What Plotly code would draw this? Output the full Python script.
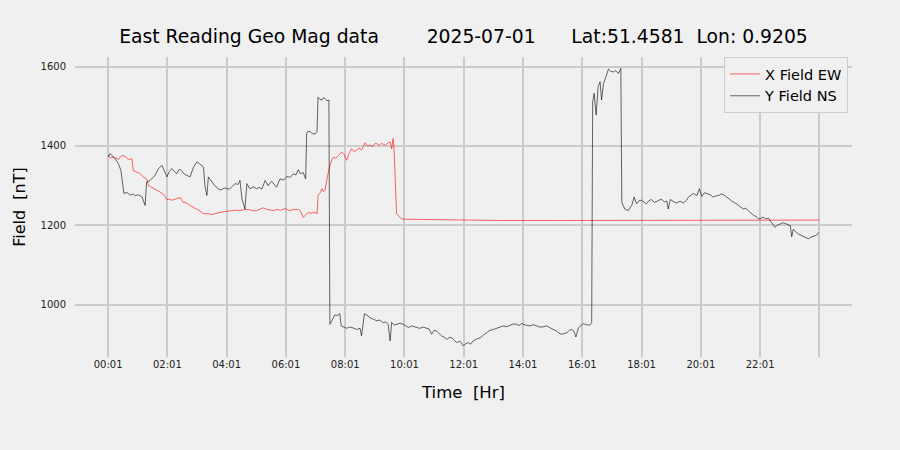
import plotly.graph_objects as go

# time in minutes since midnight
y_minutes = [1, 5, 15, 22, 27, 31, 33, 39, 46, 52, 56, 62, 66, 70, 76, 79, 86, 96, 103, 110, 116, 120, 125, 130, 135, 140, 145, 150,
             155, 160, 167, 174, 181, 186, 194, 197, 201, 204, 211, 216, 221, 226, 231, 236, 241, 246, 251, 258, 264, 268, 272, 278,
             282, 288, 295, 302, 307, 312, 319, 325, 332, 337, 342, 349, 356, 363, 370, 376, 381, 386, 390, 396, 401,
             403, 406, 410, 415, 420, 424, 426, 430, 434, 437, 440, 444, 448,
             450, 454, 460, 465, 470, 473, 478, 484, 490, 497, 504, 511, 514, 520, 525, 531, 538, 545, 551, 558, 563, 568, 572, 575,
             580, 585, 592, 599, 604, 609, 615, 622, 627, 632, 639, 646, 651, 656, 661, 666, 671, 676, 681, 687, 692, 697, 702, 707,
             713, 720, 725, 730, 735, 740, 747, 754, 759, 764, 769, 774, 781, 788, 795, 801, 808, 815, 821, 828, 833, 838, 846, 855,
             862, 869, 875, 882, 889, 896, 902, 909, 914, 919, 925, 930, 935, 939, 944, 948, 953, 958, 963, 969, 976, 980,
             982, 985, 989, 993, 997, 1000, 1004, 1009, 1014, 1019, 1024, 1029, 1034, 1039,
             1041, 1047, 1054, 1061, 1066, 1071, 1076, 1081, 1086, 1091, 1096, 1101, 1107, 1112, 1117, 1122, 1127, 1132, 1135, 1139,
             1145, 1152, 1159, 1166, 1171, 1176, 1181, 1186, 1193, 1198, 1203, 1208, 1213, 1220, 1226, 1231, 1237, 1242, 1247, 1252,
             1257, 1262, 1267, 1272, 1277, 1282, 1287, 1292, 1297, 1302, 1308, 1313, 1318, 1323, 1328, 1333, 1338, 1342, 1345, 1351,
             1356, 1361, 1366, 1371, 1377, 1382, 1385, 1388, 1393, 1398, 1403, 1408, 1414, 1419, 1424, 1429, 1435, 1440]
y_field_ns = [1372, 1381, 1368, 1355, 1338, 1296, 1280, 1283, 1276, 1279, 1274, 1277, 1275, 1271, 1250, 1309, 1313, 1326, 1343, 1351,
              1334, 1322, 1336, 1343, 1336, 1330, 1341, 1338, 1329, 1326, 1322, 1347, 1360, 1355, 1347, 1300, 1275, 1322, 1308,
              1301, 1296, 1289, 1290, 1294, 1293, 1291, 1296, 1305, 1303, 1313, 1267, 1241, 1305, 1292, 1297, 1292, 1296, 1291, 1313,
              1300, 1311, 1303, 1296, 1317, 1314, 1323, 1321, 1330, 1327, 1340, 1330, 1333, 1317,
              1431, 1437, 1436, 1431, 1430, 1436, 1523, 1517, 1516, 1522, 1520, 1514, 1516,
              950, 959, 974, 972, 977, 946, 944, 940, 943, 941, 937, 940, 921, 977, 973, 967, 963, 959, 961, 954, 956, 950, 908, 955,
              948, 950, 953, 950, 946, 942, 946, 944, 941, 940, 943, 941, 938, 925, 935, 933, 927, 921, 918, 912, 917, 916, 909, 904,
              908, 896, 901, 904, 900, 908, 913, 916, 921, 925, 930, 935, 937, 940, 942, 946, 944, 948, 951, 950, 947, 952, 948, 946,
              949, 946, 943, 944, 946, 941, 938, 933, 928, 925, 927, 929, 935, 937, 933, 918, 941, 946, 952, 949, 948, 954,
              1511, 1533, 1478, 1549, 1562, 1516, 1558, 1575, 1594, 1588, 1587, 1590, 1583, 1596,
              1258, 1241, 1237, 1250, 1271, 1254, 1262, 1263, 1258, 1254, 1262, 1265, 1258, 1260, 1264, 1265, 1259, 1261, 1241, 1265,
              1260, 1256, 1261, 1256, 1262, 1271, 1276, 1280, 1275, 1292, 1273, 1282, 1280, 1277, 1271, 1274, 1275, 1279, 1277, 1272,
              1267, 1262, 1258, 1255, 1250, 1246, 1241, 1243, 1236, 1231, 1225, 1222, 1216, 1219, 1220, 1216, 1218, 1210, 1205, 1195,
              1200, 1203, 1206, 1205, 1201, 1199, 1171, 1190, 1184, 1178, 1175, 1172, 1168, 1166, 1170, 1172, 1175, 1182]

x_minutes = [1, 6, 12, 17, 22, 29, 35, 42, 49, 52, 59, 66, 72, 79, 83, 88, 93, 100, 106, 113, 120, 125, 130, 140, 147, 153, 160,
             167, 172, 177, 182, 187, 192, 197, 204, 211, 219, 228, 238, 248, 258, 268, 278, 288, 295, 302, 308, 315, 322, 329, 336,
             343, 350, 359, 364, 369, 377, 386, 391, 396, 401, 406, 412, 418, 424,
             426, 430, 434, 437, 440, 445, 450, 454, 457, 462, 467, 470, 474, 479, 484, 489, 494, 499, 504, 509, 514, 518, 521, 526,
             531, 536, 541, 545, 550, 555, 558, 563, 568, 572, 575, 578,
             580, 585, 595, 612, 650, 700, 800, 900, 1000, 1100, 1200, 1300, 1441]
x_field_ew = [1376, 1370, 1372, 1369, 1366, 1376, 1374, 1366, 1368, 1338, 1334, 1330, 1322, 1317, 1300, 1296, 1292, 1288, 1284, 1278,
              1265, 1266, 1263, 1267, 1270, 1258, 1256, 1250, 1247, 1242, 1239, 1236, 1231, 1229, 1229, 1227, 1230, 1233, 1235,
              1236, 1238, 1237, 1240, 1239, 1236, 1237, 1241, 1244, 1240, 1238, 1237, 1240, 1238, 1242, 1239, 1237, 1240, 1240,
              1235, 1220, 1226, 1232, 1230, 1233, 1229,
              1275, 1281, 1292, 1285, 1288, 1322, 1351, 1365, 1372, 1369, 1376, 1380, 1385, 1378, 1364, 1381, 1393, 1386, 1389,
              1395, 1390, 1399, 1408, 1400, 1402, 1398, 1406, 1406, 1401, 1407, 1404, 1402, 1408, 1410, 1393, 1419, 1390,
              1229, 1216, 1215, 1214, 1213, 1212, 1212, 1212, 1212, 1212, 1213, 1213, 1213]

tick_vals = [1, 121, 241, 361, 481, 601, 721, 841, 961, 1081, 1201, 1321, 1441]
tick_text = ["00:01", "02:01", "04:01", "06:01", "08:01", "10:01", "12:01", "14:01", "16:01", "18:01", "20:01", "22:01", ""]

font = "DejaVu Sans"
fig = go.Figure()
fig.add_trace(go.Scatter(x=x_minutes, y=x_field_ew, mode="lines", name="X Field EW",
                         line=dict(color="#ff0000", width=0.6)))
fig.add_trace(go.Scatter(x=y_minutes, y=y_field_ns, mode="lines", name="Y Field NS",
                         line=dict(color="#000000", width=0.6)))

fig.update_layout(
    width=900, height=450,
    paper_bgcolor="#f0f0f0", plot_bgcolor="#f0f0f0",
    margin=dict(l=75, r=48, t=57, b=93),
    font=dict(family=font, color="#000000"),
    title=dict(text="East Reading Geo Mag data        2025-07-01      Lat:51.4581  Lon: 0.9205",
               x=0.5, xref="paper", xanchor="center", y=0.92, yref="container", yanchor="middle",
               font=dict(size=18.75, family=font, color="#000000")),
    showlegend=True,
    legend=dict(x=0.995, y=1.0, xanchor="right", yanchor="top", bgcolor="#f0f0f0",
                bordercolor="#cccccc", borderwidth=1, font=dict(size=14.5, family=font),
                itemwidth=30, tracegroupgap=0),
)
fig.update_xaxes(range=[-66, 1507], tickmode="array", tickvals=tick_vals, ticktext=tick_text,
                 showgrid=True, gridcolor="#cbcbcb", gridwidth=1.6, zeroline=False, showline=False,
                 ticks="", tickfont=dict(size=10, family=font, color="#222222"),
                 title=dict(text="Time  [Hr]", font=dict(size=16.5, family=font), standoff=17))
fig.update_yaxes(range=[867.6, 1624.5], tickmode="array", tickvals=[1000, 1200, 1400, 1600],
                 showgrid=True, gridcolor="#cbcbcb", gridwidth=1.6, zeroline=False, showline=False,
                 ticks="", ticklabelstandoff=8, tickfont=dict(size=10, family=font, color="#222222"),
                 title=dict(text="Field  [nT]", font=dict(size=16, family=font), standoff=10))

fig.write_html("out.html", config={"displayModeBar": False},
               post_script="document.body.style.margin='0';document.body.style.padding='0';")
